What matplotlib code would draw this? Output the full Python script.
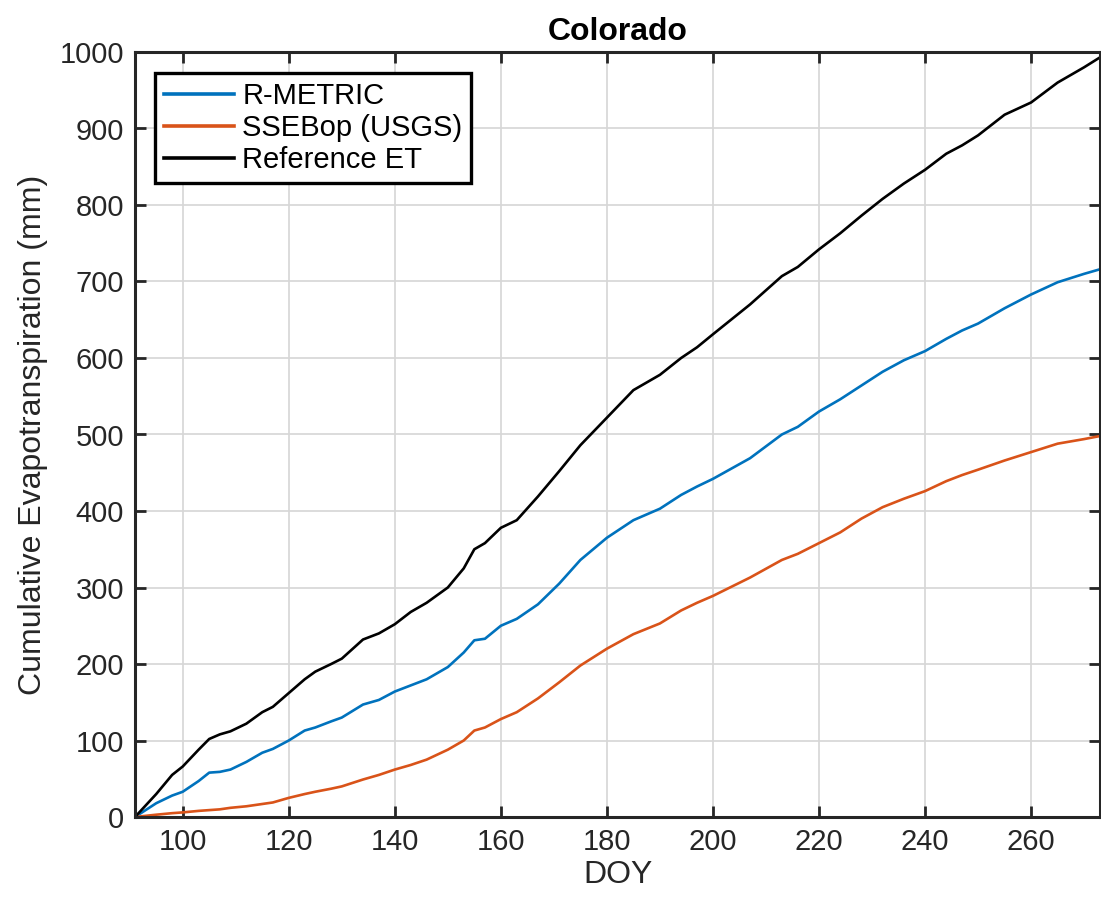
import matplotlib.pyplot as plt

plt.rcParams["font.family"] = ["Liberation Sans", "DejaVu Sans"]

# day of year (DOY) sample points
doy = [91, 95, 98, 100, 103, 105, 107, 109, 112, 115, 117, 120, 123, 125, 128,
       130, 134, 137, 140, 143, 146, 150, 153, 155, 157, 160, 163, 167, 171,
       175, 180, 185, 190, 194, 197, 200, 207, 213, 216, 220, 224, 228, 232,
       236, 240, 244, 247, 250, 255, 260, 265, 270, 273]

# cumulative ET (mm)
r_metric = [0, 18, 28, 33, 47, 58, 59, 62, 72, 84, 89, 100, 113, 117, 125,
            130, 147, 153, 164, 172, 180, 196, 215, 231, 233, 250, 259, 278,
            305, 336, 365, 388, 403, 421, 432, 442, 469, 500, 510, 530, 546,
            564, 582, 597, 609, 625, 636, 645, 665, 683, 699, 710, 716]

ssebop = [0, 3, 5, 6, 8, 9, 10, 12, 14, 17, 19, 25, 30, 33, 37,
          40, 49, 55, 62, 68, 75, 88, 100, 113, 117, 128, 137, 155,
          176, 198, 220, 239, 253, 270, 280, 289, 313, 336, 344, 358, 372,
          390, 405, 416, 426, 439, 447, 454, 466, 477, 488, 494, 498]

ref_et = [0, 30, 55, 66, 88, 102, 108, 112, 122, 137, 144, 162, 180, 190, 200,
          207, 232, 240, 252, 268, 280, 300, 325, 350, 358, 378, 388, 419,
          452, 486, 522, 558, 578, 600, 614, 631, 670, 707, 719, 742, 763,
          786, 808, 828, 846, 867, 878, 891, 918, 934, 960, 980, 993]

labels = ["R-METRIC", "SSEBop (USGS)", "Reference ET"]
colors = ["#0072BD", "#D95319", "black"]

fig = plt.figure(figsize=(11.01, 8.97), dpi=100)
ax = fig.add_axes([135 / 1101, 1 - 817 / 897, 965 / 1101, 765 / 897])

for series, lab, col in zip([r_metric, ssebop, ref_et], labels, colors):
    ax.plot(doy, series, color=col, linewidth=1.9, label=lab)

ax.set_xlim(91, 273)
ax.set_ylim(0, 1000)
ax.set_xticks(range(100, 261, 20))
ax.set_yticks(range(0, 1001, 100))

dark = "#262626"
ax.tick_params(direction="in", length=8, width=2, colors=dark,
               labelsize=21, top=True, right=True, pad=8)
for sp in ax.spines.values():
    sp.set_linewidth(2.2)
    sp.set_color(dark)
ax.grid(True, color="#d6d6d6", linewidth=1.2)
ax.set_axisbelow(True)

ax.set_xlabel("DOY", fontsize=23, color=dark, labelpad=3)
ax.set_ylabel("Cumulative Evapotranspiration (mm)", fontsize=23, color=dark,
              labelpad=8)
ax.set_title("Colorado", fontsize=23, fontweight="bold", pad=9)

leg = ax.legend(loc="upper left", bbox_to_anchor=(155 / 1101, 1 - 73 / 897),
                bbox_transform=fig.transFigure, fontsize=21, frameon=True,
                fancybox=False, framealpha=1, edgecolor="black",
                handlelength=2.4, handletextpad=0.3, labelspacing=0.15,
                borderpad=0.3, borderaxespad=0)
leg.get_frame().set_linewidth(2.4)
for line in leg.get_lines():
    line.set_linewidth(2.6)

fig.savefig("out.png", dpi=100)
